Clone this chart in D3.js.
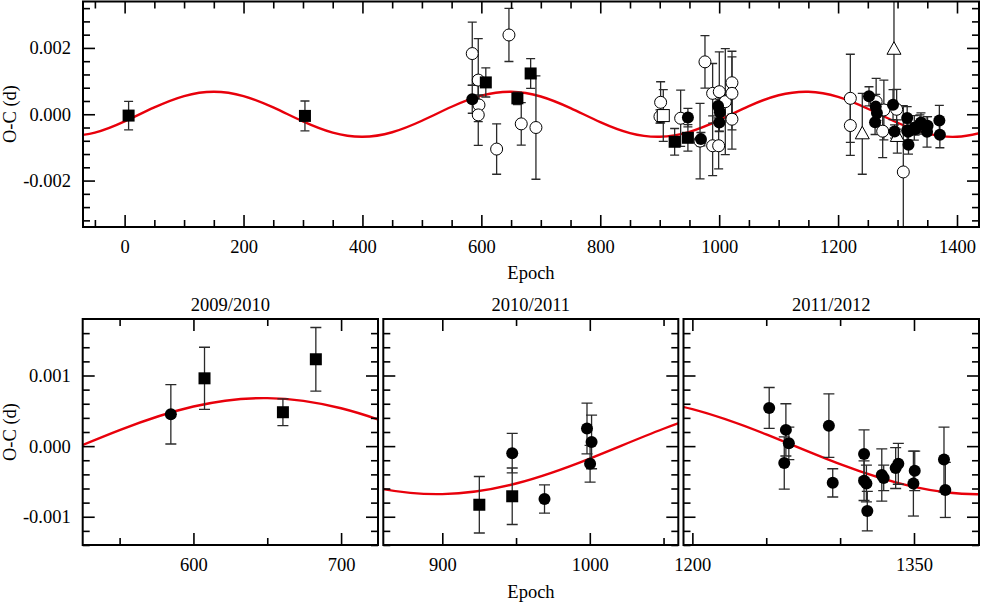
<!DOCTYPE html>
<html><head><meta charset="utf-8">
<script src="https://cdn.jsdelivr.net/npm/d3@7"></script>
<style>
body{margin:0;background:#fff}
svg{display:block}
text{font-family:"Liberation Serif","Times New Roman",serif;fill:#000}
</style>
</head><body>
<svg id="c" width="981" height="602"></svg>
<script>
// ---- data (epoch, O-C in days, error in days) ----
const fitEpochs = [-100,-50,0,50,100,150,200,250,300,350,400,450,500,550,600,650,700,750,800,850,900,950,1000,1050,1100,1150,1200,1250,1300,1350,1400,1450];
const fitOC = [-0.00068,-0.000555,-0.000216,0.000206,0.000549,0.00068,0.000549,0.000206,-0.000216,-0.000555,-0.00068,-0.000542,-0.000196,0.000227,0.000561,0.00068,0.000536,0.000185,-0.000236,-0.000567,-0.000679,-0.000529,-0.000176,0.000246,0.000573,0.000679,0.000523,0.000166,-0.000256,-0.000578,-0.000678,-0.000516];

const filledSquares = [
  [6.7,-0.00004,0.00043],[303.3,-0.00005,0.00045],[607.5,0.00096,0.00044],[660.6,0.00048,0.00019],
  [682.9,0.00123,0.00045],[925.1,-0.00083,0.0004],[947.4,-0.00071,0.0004]
];
const filledCircles = [
  [584.7,0.00045,0.00042],[947.4,-0.0001,0.00028],[969.3,-0.00075,0.0002],[998.1,0.00025,0.00036],
  [1000.2,-0.00025,0.00026],[1001.2,0.00006,0.00038],[1252,0.00054,0.00029],[1262.2,-0.00024,0.00037],
  [1263.3,0.00023,0.00037],[1265.3,0.00004,0.00023],[1292.4,0.00029,0.00045],[1295,-0.00052,0.0002],
  [1316.2,-0.00011,0.00034],[1316.2,-0.00049,0.00028],[1317.8,-0.00053,0.00026],[1318.4,-0.00092,0.00028],
  [1328.2,-0.00041,0.00037],[1329.5,-0.00045,0.00018],[1337.6,-0.00031,0.00029],[1339.4,-0.00025,0.00029],
  [1349.6,-0.00053,0.00046],[1350.5,-0.00035,0.00028],[1370.3,-0.00019,0.00046],[1371.2,-0.00062,0.00039]
];
const openCircles = [
  [584.7,0.00183,0.00095],[594.8,0.00103,0.00125],[596,0.00028,0.0003],[594.8,-0.00002,0.00092],
  [625.7,-0.00105,0.00076],[646.4,0.00239,0.0008],[667.1,-0.00029,0.00064],[691.8,-0.0004,0.00156],
  [900.4,-0.00007,0.0002],[901.5,0.00036,0.00062],[935.2,-0.00012,0.00085],[967.8,-0.00081,0.00114],
  [976.1,0.00158,0.00079],[989,0.00063,0.0009],[1000.2,0.00068,0.0012],[1010.3,0.00038,0.0016],
  [1021.5,0.00095,0.00095],[1021.5,0.00063,0.0011],[1021.5,-0.00015,0.0009],[989,-0.00095,0.0009],
  [999.1,-0.00095,0.0007],[1220.6,0.00048,0.00133],[1220.6,-0.00034,0.0009],[1264,0.00038,0.0007],
  [1275,-0.00051,0.0008],[1277,0.00013,0.0009],[1298.5,0.00015,0.0006],[1309.7,-0.00174,0.002]
];
const openSquares = [[906,-0.00004,0.00078]];
const openTriangles = [[1240.7,-0.00059,0.00122],[1294,0.00196,0.0017],[1299.6,-0.00067,0.0005]];

const topEpochTicks = [0,200,400,600,800,1000,1200,1400];
const topOCTicks = [-0.002,0,0.002];
const zoomOCTicks = [-0.001,0,0.001];
const seasonTitles = ["2009/2010","2010/2011","2011/2012"];
const seasonEpochTicks = [[600,700],[900,1000],[1200,1350]];
const seasonEpochMinor = [[550,650],[950,1050],[1250,1300]];
const seasonDomains = [[525,725],[860,1060],[1194,1394]];

// ---- drawing ----
const svg = d3.select('#c');
const fitPts = fitEpochs.map((e,i)=>[e,fitOC[i]]);
const ocFmt = d => d.toFixed(3);

function drawPanel(p){
  const x = d3.scaleLinear().domain(p.xDomain).range([p.left,p.right]);
  const y = d3.scaleLinear().domain(p.yDomain).range([p.bottom,p.top]);
  const id = 'clip'+p.name;
  svg.append('clipPath').attr('id',id).append('rect')
    .attr('x',p.left).attr('y',p.top).attr('width',p.right-p.left).attr('height',p.bottom-p.top);
  const g = svg.append('g').attr('clip-path',`url(#${id})`);
  const line = d3.line().x(d=>x(d[0])).y(d=>y(d[1])).curve(d3.curveNatural);
  g.append('path').datum(fitPts).attr('d',line).attr('fill','none')
    .attr('stroke','#e8000b').attr('stroke-width',2.4);

  const sets = p.full
    ? [[openCircles,'oc'],[openSquares,'os'],[openTriangles,'ot'],[filledSquares,'fs'],[filledCircles,'fc']]
    : [[filledSquares,'fs'],[filledCircles,'fc']];
  const cap = p.cap;
  sets.forEach(([data])=>{
    const eb = g.append('g').attr('stroke','#2a2a2a').attr('stroke-width',1.3).attr('fill','none');
    data.forEach(d=>{
      const xx = x(d[0]), y1 = y(d[1]+d[2]), y2 = y(d[1]-d[2]);
      eb.append('line').attr('x1',xx).attr('x2',xx).attr('y1',y1).attr('y2',y2);
      eb.append('line').attr('x1',xx-cap).attr('x2',xx+cap).attr('y1',y1).attr('y2',y1);
      eb.append('line').attr('x1',xx-cap).attr('x2',xx+cap).attr('y1',y2).attr('y2',y2);
    });
  });
  const r = 6, s = 12;
  sets.forEach(([data,t])=>{
    const sg = g.append('g');
    data.forEach(d=>{
      const xx = x(d[0]), yy = y(d[1]);
      if(t==='fc') sg.append('circle').attr('cx',xx).attr('cy',yy).attr('r',r).attr('fill','#000');
      if(t==='oc') sg.append('circle').attr('cx',xx).attr('cy',yy).attr('r',r).attr('fill','#fff').attr('stroke','#000').attr('stroke-width',1);
      if(t==='fs') sg.append('rect').attr('x',xx-s/2).attr('y',yy-s/2).attr('width',s).attr('height',s).attr('fill','#000');
      if(t==='os') sg.append('rect').attr('x',xx-s/2).attr('y',yy-s/2).attr('width',s).attr('height',s).attr('fill','#fff').attr('stroke','#000').attr('stroke-width',1);
      if(t==='ot') sg.append('path').attr('d',`M${xx},${yy-7.5}L${xx+7},${yy+5}L${xx-7},${yy+5}Z`).attr('fill','#fff').attr('stroke','#000').attr('stroke-width',1);
    });
  });

  const styleAx = sel => { sel.select('.domain').remove(); sel.selectAll('line').attr('stroke','#000').attr('stroke-width',1.6); sel.selectAll('text').style('font-size','18.5px').style('font-family','"Liberation Serif",serif'); };
  const add = (gen, tr, vals, size, fmt, pad) => {
    svg.append('g').attr('transform',tr).call(gen.tickValues(vals).tickSize(size).tickFormat(fmt).tickPadding(pad||0)).call(styleAx);
  };
  const none = () => '';
  add(d3.axisBottom(x), `translate(0,${p.bottom})`, p.xMajor, -12, d=>String(d), 13);
  add(d3.axisBottom(x), `translate(0,${p.bottom})`, p.xMinor, -7, none);
  add(d3.axisTop(x), `translate(0,${p.top})`, p.xMajor, -12, none);
  add(d3.axisTop(x), `translate(0,${p.top})`, p.xMinor, -7, none);
  add(d3.axisLeft(y), `translate(${p.left},0)`, p.yMajor, -12, p.yLabels ? ocFmt : none, 12);
  add(d3.axisLeft(y), `translate(${p.left},0)`, p.yMinor, -7, none);
  add(d3.axisRight(y), `translate(${p.right},0)`, p.yMajor, -12, none);
  add(d3.axisRight(y), `translate(${p.right},0)`, p.yMinor, -7, none);

  svg.append('rect').attr('x',p.left).attr('y',p.top).attr('width',p.right-p.left).attr('height',p.bottom-p.top)
    .attr('fill','none').attr('stroke','#000').attr('stroke-width',2);
  if(p.title) svg.append('text').attr('x',(p.left+p.right)/2).attr('y',p.top-8).attr('text-anchor','middle')
    .style('font-size','18.5px').text(p.title);
}

const topYMinor = d3.range(-16,17,2).map(v=>v*0.0002).filter(v=>Math.abs(v%0.002)>1e-9 && Math.abs(Math.abs(v%0.002)-0.002)>1e-9);
const topXMinor = d3.range(-50,1437,50).filter(v=>v%200!==0);
const zoomYMinor = d3.range(-7,9,1).map(v=>v*0.0002).filter(v=>Math.abs(v%0.001)>1e-9 && Math.abs(Math.abs(v%0.001)-0.001)>1e-9);

drawPanel({name:'top',full:true,left:83,right:979,top:1.5,bottom:227,xDomain:[-70,1437],yDomain:[-0.0034,0.0034],
  xMajor:topEpochTicks,xMinor:topXMinor,yMajor:topOCTicks,yMinor:topYMinor,yLabels:true,cap:4.5});

const lefts = [82.7,383.3,683.5], rights=[378,678.3,979];
seasonTitles.forEach((t,i)=>{
  drawPanel({name:'s'+i,full:false,left:lefts[i],right:rights[i],top:319,bottom:545,xDomain:seasonDomains[i],yDomain:[-0.0014,0.0018],
    xMajor:seasonEpochTicks[i],xMinor:seasonEpochMinor[i],yMajor:zoomOCTicks,yMinor:zoomYMinor,yLabels:i===0,cap:5.5,title:t});
});

svg.append('text').attr('x',531).attr('y',279).attr('text-anchor','middle').style('font-size','18.5px').text('Epoch');
svg.append('text').attr('x',531).attr('y',598).attr('text-anchor','middle').style('font-size','18.5px').text('Epoch');
svg.append('text').attr('transform','translate(16,114) rotate(-90)').attr('text-anchor','middle').style('font-size','18.5px').text('O-C (d)');
svg.append('text').attr('transform','translate(16,432) rotate(-90)').attr('text-anchor','middle').style('font-size','18.5px').text('O-C (d)');
</script>
</body></html>
